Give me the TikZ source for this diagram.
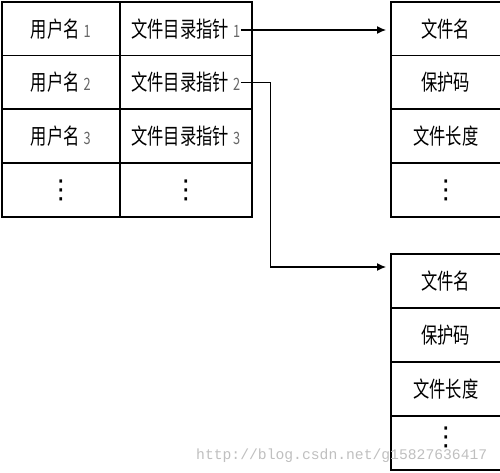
\documentclass[tikz,border=0pt]{standalone}
\usepackage{fontspec}
\usepackage{graphicx}
\newfontfamily\cjk{Noto Sans CJK SC}
\newfontfamily\monofam{Liberation Mono}
\newfontfamily\dejavu{DejaVu Sans}
\usetikzlibrary{arrows.meta,calc}
\newcommand\cjtext[1]{\scalebox{0.74}[1]{\fontsize{22}{24}\cjk #1}}
\newcommand\numtext[1]{{\color{black!60}\scalebox{0.75}[1]{\fontsize{17}{17}\cjk #1}}}
\newcommand\vdotstext{{\dejavu\fontsize{26}{26}\selectfont ⋮}}
\begin{document}
\begin{tikzpicture}[x=1pt,y=-1pt,
  box/.style={draw=black,line width=1.6pt,anchor=north west,inner sep=0pt,minimum height=53.75pt},
  boxA/.style={box,minimum width=118pt},
  boxB/.style={box,minimum width=132pt},
  boxR/.style={box,minimum width=112pt},
  lbl/.style={inner sep=0.5pt},
  conn/.style={line width=1.2pt,-{Latex[length=9pt,width=8pt]}},
  wmark/.style={inner sep=0pt,anchor=base west,text=black!25,font=\fontsize{14.7}{15}\monofam}]
\useasboundingbox (0,0) rectangle (500,473);
\clip (0,0) rectangle (500,473);
% tables
\foreach \i/\t in {1/1,2/54.75,3/108.5,4/162.25}{
  \node[boxA] (u\i) at (1,\t) {};
  \node[boxB] (p\i) at (119,\t) {};
  \node[boxR] (f\i) at (390,\t) {};
}
\foreach \i/\t in {1/253,2/307,3/361,4/415}{
  \node[boxR,minimum height=54pt] (g\i) at (390,\t) {};
}
\node[lbl] (ut1) at (u1) {\cjtext{用户名}\hspace{4pt}\numtext{1}};
\node[lbl] (ut2) at (u2) {\cjtext{用户名}\hspace{4pt}\numtext{2}};
\node[lbl] (ut3) at (u3) {\cjtext{用户名}\hspace{4pt}\numtext{3}};
\node[lbl] (ut4) at (u4) {\vdotstext};
\node[lbl] (pt1) at (p1) {\cjtext{文件目录指针}\hspace{4pt}\numtext{1}};
\node[lbl] (pt2) at (p2) {\cjtext{文件目录指针}\hspace{4pt}\numtext{2}};
\node[lbl] (pt3) at (p3) {\cjtext{文件目录指针}\hspace{4pt}\numtext{3}};
\node[lbl] (pt4) at (p4) {\vdotstext};
\node[lbl] (ft1) at ($(f1.center)+(-1,0)$) {\cjtext{文件名}};
\node[lbl] (ft2) at ($(f2.center)+(-1,0)$) {\cjtext{保护码}};
\node[lbl] (ft3) at ($(f3.center)+(-1,0)$) {\cjtext{文件长度}};
\node[lbl] (ft4) at ($(f4.center)+(-1,0)$) {\vdotstext};
\node[lbl] (gt1) at ($(g1.center)+(-1,0)$) {\cjtext{文件名}};
\node[lbl] (gt2) at ($(g2.center)+(-1,0)$) {\cjtext{保护码}};
\node[lbl] (gt3) at ($(g3.center)+(-1,0)$) {\cjtext{文件长度}};
\node[lbl] (gt4) at ($(g4.center)+(-1,-5)$) {\vdotstext};
% connectors
\coordinate (fin) at ($(f1.north west)+(0,29)$);
\coordinate (gin) at ($(g1.north west)+(0,14)$);
\draw[conn,shorten >=4pt] (pt1.east |- fin) -- (fin);
\draw[conn,shorten >=4pt] (pt2.east) -| ($(pt2.east)+(30,0)$) |- (gin);
% watermark
\node[wmark] (wm) at (196,459) {http://blog.csdn.net/g15827636417};
\end{tikzpicture}
\end{document}
